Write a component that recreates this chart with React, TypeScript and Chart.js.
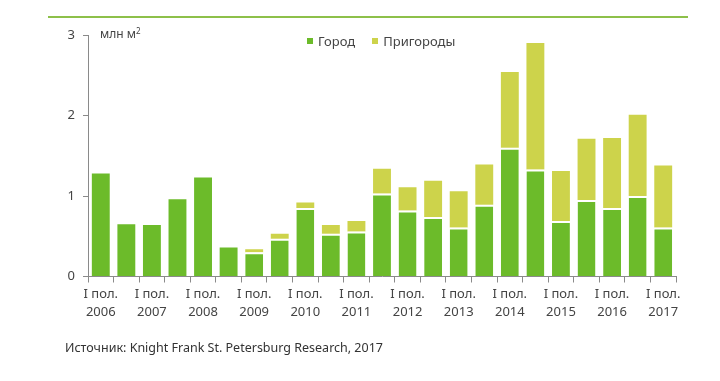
import React, { useEffect, useRef } from "react";
import { Chart, registerables } from "chart.js";

Chart.register(...registerables);

const categories: string[][] = [
  ["I пол.", "2006"], [""], ["I пол.", "2007"], [""], ["I пол.", "2008"], [""],
  ["I пол.", "2009"], [""], ["I пол.", "2010"], [""], ["I пол.", "2011"], [""],
  ["I пол.", "2012"], [""], ["I пол.", "2013"], [""], ["I пол.", "2014"], [""],
  ["I пол.", "2015"], [""], ["I пол.", "2016"], [""], ["I пол.", "2017"],
];

const cityValues = [1.28, 0.65, 0.64, 0.96, 1.23, 0.36, 0.3, 0.47, 0.85, 0.53, 0.56, 1.03, 0.82, 0.74, 0.61, 0.89, 1.6, 1.33, 0.69, 0.95, 0.85, 1.0, 0.61];
const suburbValues = [0, 0, 0, 0, 0, 0, 0.04, 0.06, 0.07, 0.11, 0.13, 0.31, 0.29, 0.45, 0.45, 0.5, 0.94, 1.57, 0.62, 0.76, 0.87, 1.01, 0.77];

const seriesNames = ["Город", "Пригороды"];
const yTicks = [0, 1, 2, 3];

const GREEN = "#6cbb2a";
const YELLOW = "#cdd34b";
const AXIS = "#8a8a8a";
const TEXT = "#444";
const FONT = "'Noto Sans', 'Open Sans', sans-serif";

export default function App() {
  const ref = useRef<HTMLCanvasElement>(null);

  useEffect(() => {
    if (!ref.current) return;
    const chart = new Chart(ref.current, {
      type: "bar",
      data: {
        labels: categories,
        datasets: [
          {
            label: seriesNames[0],
            data: cityValues,
            backgroundColor: GREEN,
            borderColor: "#ffffff",
            borderWidth: (ctx: any) => ({
              top: suburbValues[ctx.dataIndex] > 0 ? 2 : 0,
              left: 0,
              right: 0,
              bottom: 0,
            }),
            borderSkipped: false,
            barPercentage: 0.7,
            categoryPercentage: 1,
          },
          {
            label: seriesNames[1],
            data: suburbValues,
            backgroundColor: YELLOW,
            borderWidth: 0,
            barPercentage: 0.7,
            categoryPercentage: 1,
          },
        ],
      },
      options: {
        animation: false,
        responsive: false,
        maintainAspectRatio: false,
        layout: { padding: { top: 35, right: 44, left: 0, bottom: 0 } },
        plugins: {
          legend: { display: false },
          tooltip: { enabled: false },
        },
        scales: {
          x: {
            stacked: true,
            afterFit: (s: any) => { s.height = 381 - 35 - 241.5; },
            grid: {
              display: true,
              drawOnChartArea: false,
              offset: true,
              tickLength: 6,
              color: AXIS,
            },
            border: { display: true, color: AXIS, width: 1 },
            ticks: {
              autoSkip: false,
              maxRotation: 0,
              minRotation: 0,
              padding: 2,
              color: TEXT,
              font: { family: FONT, size: 13, lineHeight: 1.45 },
            },
          },
          y: {
            stacked: true,
            min: 0,
            max: 3,
            afterFit: (s: any) => { s.width = 88; },
            afterBuildTicks: (s: any) => { s.ticks = yTicks.map((v) => ({ value: v })); },
            grid: {
              display: true,
              drawOnChartArea: false,
              tickLength: 5,
              color: AXIS,
            },
            border: { display: true, color: AXIS, width: 1 },
            ticks: {
              padding: 8,
              color: TEXT,
              font: { family: FONT, size: 13 },
            },
          },
        },
      },
    });
    return () => chart.destroy();
  }, []);

  return (
    <div style={{ position: "absolute", left: 0, top: 0, width: 720, height: 381, background: "#fff", fontFamily: FONT, color: TEXT }}>
      <div style={{ position: "absolute", left: 48, top: 16, width: 640, height: 2, background: "#8dc04a" }} />
      <canvas ref={ref} width={720} height={381} style={{ position: "absolute", left: 0, top: 0, width: 720, height: 381 }} />
      <div style={{ position: "absolute", left: 100, top: 25, fontSize: 12, lineHeight: "18px" }}>
        млн м<sup style={{ fontSize: 8, verticalAlign: "top", lineHeight: "12px" }}>2</sup>
      </div>
      <div style={{ position: "absolute", left: 307, top: 32, fontSize: 13, lineHeight: "18px", display: "flex", alignItems: "center" }}>
        <span style={{ display: "inline-block", width: 6, height: 6, background: GREEN, marginRight: 5 }} />
        <span>{seriesNames[0]}</span>
        <span style={{ display: "inline-block", width: 6, height: 6, background: YELLOW, marginLeft: 17, marginRight: 5 }} />
        <span>{seriesNames[1]}</span>
      </div>
      <div style={{ position: "absolute", left: 65, top: 339, fontSize: 12.5, lineHeight: "18px", color: "#333" }}>
        Источник: Knight Frank St. Petersburg Research, 2017
      </div>
    </div>
  );
}
